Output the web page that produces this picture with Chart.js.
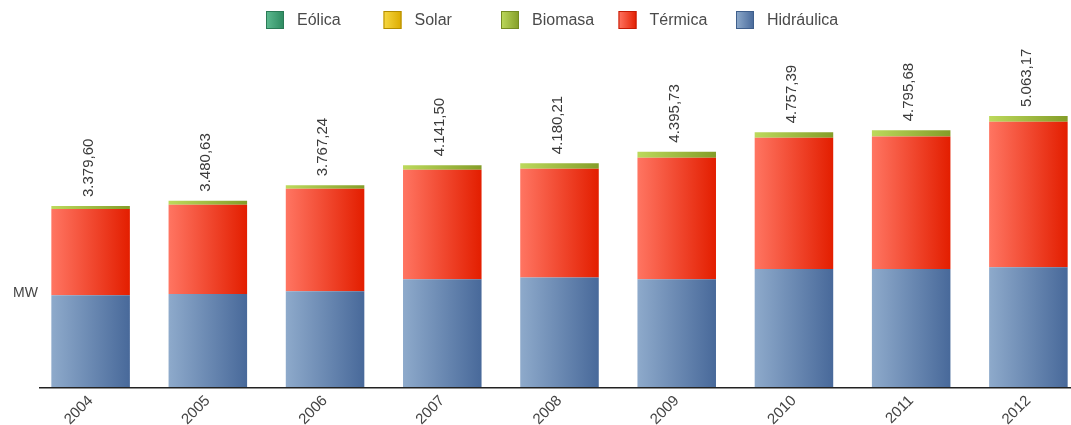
<!DOCTYPE html>
<html>
<head>
<meta charset="utf-8">
<script src="https://cdn.jsdelivr.net/npm/chart.js@4/dist/chart.umd.min.js"></script>
<style>
  html, body { margin: 0; padding: 0; background: #ffffff; overflow: hidden; width: 1071px; height: 425px; }
  #wrap { width: 1087px; height: 425px; }
  canvas { display: block; }
</style>
</head>
<body>
<div id="wrap"><canvas id="c" width="1087" height="425"></canvas></div>
<script>
// ---- data ----
const years      = ['2004', '2005', '2006', '2007', '2008', '2009', '2010', '2011', '2012'];
const hidraulica = [1714, 1738, 1789, 2013, 2043, 2013, 2206, 2206, 2237];
const termica    = [1613, 1664, 1912, 2043, 2032, 2267, 2449, 2473, 2716];
const biomasa    = [52.60, 78.63, 66.24, 85.50, 105.21, 115.73, 102.39, 116.68, 110.17];
const solar      = [0, 0, 0, 0, 0, 0, 0, 0, 0];
const eolica     = [0, 0, 0, 0, 0, 0, 0, 0, 0];
const yAxisTitle = 'MW';
const yMax       = 6500;

// ---- styles ----
const FONT = '"Liberation Sans", Arial, sans-serif';
const BAR_PCT = 0.67;

function barGradient(stops) {
  return (ctx) => {
    const chart = ctx.chart;
    if (ctx.type !== 'data' || !chart.chartArea) return stops[1];
    const xs = chart.scales.x;
    const cx = xs.getPixelForValue(ctx.dataIndex);
    const w = (xs.width / chart.data.labels.length) * BAR_PCT;
    const g = chart.ctx.createLinearGradient(cx - w / 2, 0, cx + w / 2, 0);
    g.addColorStop(0, stops[0]);
    g.addColorStop(1, stops[1]);
    return g;
  };
}

function fmt(v) {
  const parts = v.toFixed(2).split('.');
  parts[0] = parts[0].replace(/\B(?=(\d{3})+(?!\d))/g, '.');
  return parts[0] + ',' + parts[1];
}

const series = [
  { label: 'Hidráulica', data: hidraulica, stops: ['#8eaacb', '#48699a'], border: '#3f5f8c' },
  { label: 'Térmica',    data: termica,    stops: ['#ff7562', '#e31e00'], border: '#c41a05' },
  { label: 'Biomasa',    data: biomasa,    stops: ['#bcd95c', '#849d28'], border: '#758c22' },
  { label: 'Solar',      data: solar,      stops: ['#f7d843', '#dcab00'], border: '#b38c00' },
  { label: 'Eólica',     data: eolica,     stops: ['#5dba90', '#2d8a60'], border: '#2a7a56' }
];

const datasets = series.map(s => ({
  label: s.label,
  data: s.data,
  stack: 'total',
  backgroundColor: barGradient(s.stops),
  borderWidth: 0,
  barPercentage: BAR_PCT,
  categoryPercentage: 1.0,
  legendStops: s.stops,
  legendBorder: s.border
}));

// custom legend: fixed-width columns, reversed order (top of stack first)
const legendPlugin = {
  id: 'columnLegend',
  afterDraw(chart) {
    const ctx = chart.ctx;
    const items = chart.data.datasets.slice().reverse();
    const startX = 266, step = 117.5, boxY = 11, box = 18;
    ctx.save();
    ctx.font = '16px ' + FONT;
    ctx.textBaseline = 'middle';
    ctx.textAlign = 'left';
    items.forEach((ds, i) => {
      const x = startX + i * step;
      const g = ctx.createLinearGradient(x, 0, x + box, 0);
      g.addColorStop(0, ds.legendStops[0]);
      g.addColorStop(1, ds.legendStops[1]);
      ctx.fillStyle = g;
      ctx.fillRect(x, boxY, box, box);
      ctx.strokeStyle = ds.legendBorder;
      ctx.lineWidth = 1;
      ctx.strokeRect(x + 0.5, boxY + 0.5, box - 1, box - 1);
      ctx.fillStyle = '#4a4a4a';
      ctx.fillText(ds.label, x + 31, boxY + box / 2 + 1);
    });
    ctx.restore();
  }
};

// totals above each bar, baseline axis line, y-axis title
const decorPlugin = {
  id: 'decor',
  afterDatasetsDraw(chart) {
    const ctx = chart.ctx;
    const area = chart.chartArea;
    const xs = chart.scales.x, ys = chart.scales.y;
    ctx.save();
    // baseline
    ctx.strokeStyle = '#222222';
    ctx.lineWidth = 1.6;
    ctx.beginPath();
    ctx.moveTo(area.left + 7, area.bottom + 0.8);
    ctx.lineTo(chart.width, area.bottom + 0.8);
    ctx.stroke();
    // totals
    ctx.font = '15px ' + FONT;
    ctx.fillStyle = '#3a3a3a';
    ctx.textAlign = 'left';
    ctx.textBaseline = 'middle';
    chart.data.labels.forEach((lab, i) => {
      const total = chart.data.datasets.reduce((s, ds) => s + ds.data[i], 0);
      const x = xs.getPixelForValue(i) - 2;
      const y = ys.getPixelForValue(total) - 9;
      ctx.save();
      ctx.translate(x, y);
      ctx.rotate(-Math.PI / 2);
      ctx.fillText(fmt(total), 0, 0);
      ctx.restore();
    });
    // y-axis title
    ctx.font = '14px ' + FONT;
    ctx.fillStyle = '#444444';
    ctx.textAlign = 'right';
    ctx.fillText(yAxisTitle, area.left + 6, area.bottom - 94);
    ctx.restore();
  }
};

new Chart(document.getElementById('c'), {
  type: 'bar',
  data: { labels: years, datasets },
  options: {
    responsive: false,
    animation: false,
    layout: { padding: { left: 32, top: 39, right: 0, bottom: 0 } },
    plugins: {
      legend: { display: false },
      tooltip: { enabled: false }
    },
    scales: {
      x: {
        stacked: true,
        grid: { display: false },
        border: { display: false },
        ticks: {
          minRotation: 45,
          maxRotation: 45,
          padding: -3,
          color: '#444444',
          font: { family: FONT, size: 15 }
        },
        afterFit(scale) { scale.height = 38; }
      },
      y: {
        stacked: true,
        display: false,
        min: 0,
        max: yMax
      }
    }
  },
  plugins: [legendPlugin, decorPlugin]
});
</script>
</body>
</html>
